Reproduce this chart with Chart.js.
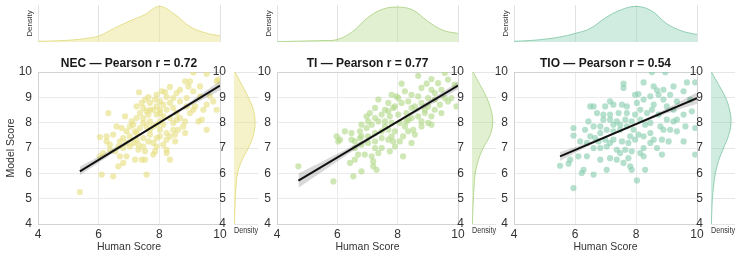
<!DOCTYPE html>
<html>
<head>
<meta charset="utf-8">
<script src="https://cdn.jsdelivr.net/npm/chart.js@4.4.1/dist/chart.umd.min.js"></script>
<style>
  html, body { margin: 0; padding: 0; background: #fff; }
  #wrap { position: relative; width: 740px; height: 256px; overflow: hidden; }
  #wrap canvas { position: absolute; left: 0; top: 0; }
</style>
</head>
<body>
<div id="wrap"></div>
<script>
// ---- data ----
const humanTicks = [4, 6, 8, 10];
const modelTicks = [4, 5, 6, 7, 8, 9, 10];
const densityGrid = [4, 4.5, 5, 5.5, 6, 6.5, 7, 7.5, 8, 8.5, 9, 9.5, 10];

const panelNames = ['NEC', 'TI', 'TIO'];
const pearsonR = ['0.72', '0.77', '0.54'];

const necPoints = [[9.12,9.98],[9.56,9.93],[9.89,9.63],[8.85,9.63],[9.01,9.63],[8.35,9.41],[8.96,9.43],[7.33,9.2],[8.08,9.24],[8.19,9.21],[7.91,9.1],[8.57,9.17],[8.46,8.97],[8.24,9.01],[7.64,9.01],[8.68,8.84],[8.02,8.84],[8.35,8.78],[8.13,8.71],[7.91,8.64],[7.69,8.51],[7.47,8.58],[7.25,8.64],[6.32,8.38],[8.46,8.58],[8.24,8.51],[8.02,8.51],[8.57,8.38],[8.9,8.64],[9.18,8.64],[9.56,8.71],[9.89,8.51],[9.45,8.51],[9.12,8.51],[9.29,8.05],[9.4,8.12],[9.56,7.72],[8.85,8.05],[8.68,8.18],[8.35,8.18],[8.13,8.25],[7.91,8.32],[7.64,8.32],[7.47,8.18],[7.36,8.38],[7.09,8.05],[6.87,8.25],[6.59,7.85],[6.76,7.79],[7.03,7.85],[7.2,7.66],[7.47,7.99],[7.69,8.05],[7.91,7.92],[8.02,7.72],[8.24,7.59],[8.35,7.46],[8.46,7.72],[8.62,7.72],[8.85,7.59],[8.02,7.46],[8.24,7.33],[8.52,7.26],[7.91,7.39],[7.69,7.53],[7.47,7.39],[7.25,7.33],[7.03,7.46],[6.81,7.39],[6.48,7.53],[6.26,7.26],[6.04,7.43],[6.92,7.2],[7.03,7.06],[7.31,6.93],[7.53,6.87],[7.86,6.87],[8.24,6.93],[8.24,6.8],[8.35,6.54],[7.8,6.74],[7.42,6.54],[7.2,6.54],[6.92,6.67],[6.7,6.67],[6.54,6.87],[6.37,6.93],[6.15,6.8],[6.04,6.67],[6.81,6.41],[6.65,6.28],[7.53,6.54],[7.58,5.95],[6.48,5.88],[6.1,5.95],[5.38,5.26],[6.65,7.06],[6.81,7.0],[7.14,7.2],[7.31,7.13],[7.47,7.06],[7.64,7.26],[7.8,7.2],[7.69,7.72],[7.8,7.85],[7.58,7.85],[8.02,8.05],[8.13,7.92],[8.46,7.99],[8.57,8.12],[8.02,8.38],[7.8,8.51],[7.58,8.45],[7.25,8.18],[7.14,7.92],[9.12,9.24],[9.34,9.04],[9.67,9.04],[9.78,8.84],[9.94,9.7],[9.34,9.43],[8.68,9.3],[7.69,8.78],[7.42,8.78],[8.9,8.97],[9.01,8.38],[8.79,7.85],[8.52,7.53],[8.13,7.13],[7.91,7.06],[7.25,7.59],[7.36,7.79],[6.92,7.66],[6.7,7.26],[6.37,7.13],[6.26,7.46],[7.86,8.91],[7.53,8.91]];

const tiPoints = [[8.68,9.85],[9.56,9.96],[9.12,9.72],[9.34,9.56],[8.13,9.54],[8.96,9.54],[9.67,9.7],[9.89,9.5],[9.45,9.3],[9.12,9.3],[8.79,9.37],[8.24,9.24],[7.8,9.1],[8.46,9.1],[8.68,9.04],[9.01,8.97],[9.23,8.91],[9.56,8.97],[9.78,8.97],[9.95,8.64],[8.02,8.97],[7.36,8.91],[7.69,8.78],[8.13,8.78],[8.35,8.84],[8.57,8.64],[8.79,8.78],[9.01,8.64],[9.23,8.51],[9.45,8.38],[7.85,8.58],[7.58,8.51],[7.25,8.58],[7.08,8.38],[6.97,8.25],[7.47,8.32],[7.74,8.25],[8.02,8.32],[8.29,8.38],[8.46,8.18],[8.68,8.25],[8.9,8.38],[9.12,8.25],[9.01,7.99],[8.79,7.85],[8.52,7.72],[8.29,8.05],[8.07,7.99],[7.8,7.99],[7.58,8.05],[7.36,8.05],[7.14,7.92],[6.97,7.79],[6.75,7.66],[6.47,7.59],[6.25,7.66],[5.98,7.46],[6.09,7.33],[6.03,7.26],[6.47,7.33],[6.75,7.39],[7.02,7.46],[7.25,7.59],[7.47,7.66],[7.69,7.72],[7.91,7.66],[8.18,7.46],[8.46,7.2],[8.18,6.67],[7.85,7.26],[7.69,7.33],[7.47,7.39],[7.25,7.26],[7.02,7.2],[6.8,7.13],[6.58,7.0],[6.69,6.74],[6.91,6.74],[7.14,6.67],[7.19,6.47],[7.3,6.14],[7.19,6.28],[6.58,6.54],[6.42,6.41],[6.8,6.08],[6.53,5.88],[5.87,5.68],[4.71,6.28],[7.47,7.0],[7.25,7.0],[7.74,6.87],[7.91,7.06],[7.36,6.8],[7.58,7.85],[7.8,7.46],[8.07,7.26],[8.35,7.66],[8.57,7.53],[9.12,7.92],[8.79,8.05],[9.67,8.84],[9.23,9.17],[9.4,8.71],[7.25,8.18],[7.02,8.05],[6.8,7.92],[7.91,8.64],[8.46,8.58],[7.96,9.04],[6.8,7.46],[6.58,7.26],[7.69,8.45],[8.24,7.85],[8.9,8.51],[8.35,8.12]];

const tioPoints = [[8.52,9.99],[8.96,9.99],[8.25,9.59],[7.59,9.54],[7.59,9.37],[8.58,9.43],[8.69,9.28],[8.9,9.3],[9.23,9.43],[9.67,9.59],[9.94,9.59],[9.56,9.24],[7.97,9.1],[8.08,9.13],[7.15,8.84],[6.5,8.64],[6.61,8.64],[7.26,8.71],[7.54,8.71],[7.7,8.64],[8.25,8.91],[8.47,9.04],[8.74,9.1],[8.9,8.91],[9.12,9.1],[9.34,8.84],[9.78,8.91],[9.83,8.45],[9.56,8.32],[9.23,8.05],[9.34,8.12],[9.01,8.12],[8.74,8.32],[8.52,8.51],[8.36,8.38],[8.14,8.51],[7.97,8.32],[7.7,8.38],[7.43,8.38],[7.15,8.32],[6.93,8.32],[6.93,8.12],[7.15,8.12],[7.37,8.05],[7.65,8.12],[7.86,8.05],[8.14,8.12],[8.3,7.92],[8.47,7.99],[8.8,7.85],[9.12,7.72],[9.34,7.66],[9.62,7.85],[9.94,7.79],[6.44,8.05],[5.95,7.79],[5.95,7.49],[6.33,7.72],[6.17,7.26],[6.5,7.46],[6.66,7.39],[6.83,7.59],[7.04,7.72],[7.26,7.66],[7.48,7.72],[7.7,7.85],[7.92,7.72],[8.08,7.53],[8.25,7.46],[8.47,7.59],[8.58,7.33],[8.85,7.33],[9.07,7.26],[8.25,7.0],[7.97,7.33],[7.75,7.2],[7.54,7.26],[7.26,7.33],[6.99,7.33],[6.77,7.26],[6.83,7.0],[7.04,7.06],[7.37,6.93],[7.65,6.93],[7.86,6.87],[8.14,6.8],[8.25,6.67],[7.75,6.6],[7.48,6.8],[7.15,6.6],[6.83,6.54],[6.39,6.67],[6.11,6.67],[5.84,6.54],[5.51,6.3],[5.79,6.38],[6.22,6.01],[6.28,6.14],[6.61,5.95],[7.04,6.14],[7.81,6.28],[7.86,6.14],[8.3,6.14],[8.03,5.72],[5.95,5.42],[9.94,6.74],[6.61,7.0],[6.39,7.2],[7.26,7.92],[7.48,7.92],[7.81,7.46],[8.47,7.2],[8.69,7.0],[8.9,7.72],[8.58,8.71],[9.01,8.64],[9.23,8.51],[8.03,8.78],[6.99,8.64],[6.72,8.38],[6.61,7.85],[6.83,7.85],[7.15,7.2],[7.37,6.54],[7.59,6.41],[8.85,6.74],[9.56,7.26]];

// regression line ends and confidence band
const necLineX = [5.38, 10], necLineY = [6.08, 9.46];
const tiLineX = [4.71, 10], tiLineY = [5.71, 9.46];
const tioLineX = [5.51, 10], tioLineY = [6.67, 8.97];

const necBandX = [5.38, 6.5, 7.8, 9, 10];
const necBandLo = [5.92, 6.81, 7.81, 8.64, 9.28];
const necBandHi = [6.26, 6.99, 7.89, 8.82, 9.64];
const tiBandX = [4.71, 6, 7.7, 9, 10];
const tiBandLo = [5.43, 6.47, 7.78, 8.65, 9.31];
const tiBandHi = [5.99, 6.77, 7.88, 8.85, 9.61];
const tioBandX = [5.51, 6.5, 7.8, 9, 10];
const tioBandLo = [6.5, 7.11, 7.8, 8.36, 8.75];
const tioBandHi = [6.84, 7.25, 7.88, 8.56, 9.19];

// marginal densities (relative) on densityGrid
const necHumanDens = [0.02, 0.03, 0.05, 0.09, 0.17, 0.38, 0.58, 0.76, 1.0, 0.78, 0.44, 0.26, 0.17];
const tiHumanDens  = [0.01, 0.02, 0.03, 0.04, 0.07, 0.29, 0.68, 0.92, 0.98, 0.9, 0.58, 0.33, 0.24];
const tioHumanDens = [0.02, 0.04, 0.08, 0.14, 0.24, 0.38, 0.68, 0.9, 1.0, 0.88, 0.52, 0.31, 0.21];
const necModelDens = [0.02, 0.04, 0.06, 0.1, 0.17, 0.37, 0.68, 0.92, 1.0, 0.92, 0.68, 0.37, 0.05];
const tiModelDens  = [0.02, 0.04, 0.07, 0.1, 0.16, 0.3, 0.54, 0.87, 1.0, 0.92, 0.7, 0.38, 0.05];
const tioModelDens = [0.02, 0.04, 0.07, 0.13, 0.22, 0.38, 0.63, 0.88, 1.0, 0.93, 0.72, 0.38, 0.02];

// ---- drawing ----
Chart.defaults.font.family = '"Liberation Sans", Arial, sans-serif';
Chart.defaults.color = '#333';
Chart.defaults.animation = false;

const W = 740, H = 256;
const wrap = document.getElementById('wrap');
function makeCanvas() {
  const c = document.createElement('canvas');
  c.width = W; c.height = H;
  wrap.appendChild(c);
  return c.getContext('2d');
}

const panels = [
  { points: necPoints, lineX: necLineX, lineY: necLineY, bandX: necBandX, lo: necBandLo, hi: necBandHi,
    hDens: necHumanDens, mDens: necModelDens, dot: 'rgba(230,222,128,0.62)', fill: 'rgba(236,229,150,0.5)', edge: 'rgba(226,218,125,0.85)',
    L: 38, R: 220, ML: 234, MR: 258, mMax: 1.14 },
  { points: tiPoints, lineX: tiLineX, lineY: tiLineY, bandX: tiBandX, lo: tiBandLo, hi: tiBandHi,
    hDens: tiHumanDens, mDens: tiModelDens, dot: 'rgba(178,216,136,0.62)', fill: 'rgba(190,222,155,0.45)', edge: 'rgba(170,210,130,0.85)',
    L: 277, R: 458, ML: 472, MR: 496, mMax: 1.16 },
  { points: tioPoints, lineX: tioLineX, lineY: tioLineY, bandX: tioBandX, lo: tioBandLo, hi: tioBandHi,
    hDens: tioHumanDens, mDens: tioModelDens, dot: 'rgba(136,205,174,0.62)', fill: 'rgba(150,210,185,0.45)', edge: 'rgba(130,200,168,0.85)',
    L: 514, R: 697, ML: 711, MR: 735, mMax: 1.2 }
];

const edgeGrid = c => (c.tick && (c.tick.value === 4 || c.tick.value === 10)) ? '#d2d2d2' : '#ebebeb';
const setTicks = arr => s => { s.ticks = arr.map(v => ({ value: v })); };
const noPlugins = { legend: { display: false }, tooltip: { enabled: false } };

panels.forEach((p, i) => {
  // main scatter with regression line
  new Chart(makeCanvas(), {
    type: 'scatter',
    data: {
      datasets: [
        { data: p.lineX.map((x, k) => ({ x, y: p.lineY[k] })), showLine: true, borderColor: '#111', borderWidth: 2, pointRadius: 0, order: 0 },
        { data: p.bandX.map((x, k) => ({ x, y: p.hi[k] })), showLine: true, borderWidth: 0, pointRadius: 0, tension: 0.3,
          fill: '+1', backgroundColor: 'rgba(0,0,0,0.15)', order: 1 },
        { data: p.bandX.map((x, k) => ({ x, y: p.lo[k] })), showLine: true, borderWidth: 0, pointRadius: 0, tension: 0.3, order: 1 },
        { data: p.points.map(d => ({ x: d[0], y: d[1] })), backgroundColor: p.dot, borderWidth: 0, pointRadius: 3.1, order: 3 }
      ]
    },
    options: {
      responsive: false,
      layout: { padding: { left: p.L - 38, right: W - p.R, top: 0, bottom: 0 } },
      plugins: Object.assign({}, noPlugins, {
        title: { display: true, fullSize: false, text: panelNames[i] + ' — Pearson r = ' + pearsonR[i], color: '#1a1a1a',
          font: { size: 12, weight: 'bold' }, padding: { top: 56.3, bottom: 1.3 } }
      }),
      scales: {
        x: { type: 'linear', min: 4, max: 10, afterBuildTicks: setTicks(humanTicks), afterFit: s => { s.height = 32; },
          grid: { color: edgeGrid, drawTicks: false }, border: { color: '#d2d2d2' },
          ticks: { padding: 3.8, font: { size: 12 }, color: '#333' },
          title: { display: true, text: 'Human Score', font: { size: 10.5 }, color: '#333', padding: { top: 0, bottom: 2.2 } } },
        y: { type: 'linear', min: 4, max: 10, afterBuildTicks: setTicks(modelTicks), afterFit: s => { s.width = 38; },
          grid: { color: edgeGrid, drawTicks: false }, border: { color: '#d2d2d2' },
          ticks: { padding: 6, font: { size: 12 }, color: '#333' },
          title: { display: i === 0, text: 'Model Score', font: { size: 10.5 }, color: '#333', padding: { top: 4.7, bottom: 0 } } }
      }
    }
  });

  // top marginal: human score density
  new Chart(makeCanvas(), {
    type: 'scatter',
    data: {
      datasets: [{ data: densityGrid.map((x, k) => ({ x, y: p.hDens[k] })), showLine: true, tension: 0.4, pointRadius: 0,
        borderColor: p.edge, borderWidth: 1, backgroundColor: p.fill, fill: 'origin' }]
    },
    options: {
      responsive: false,
      layout: { padding: { left: p.L - 38, right: W - p.R, top: 5, bottom: 214 } },
      plugins: noPlugins,
      scales: {
        x: { type: 'linear', min: 4, max: 10, afterBuildTicks: setTicks(humanTicks), afterFit: s => { s.height = 0; },
          ticks: { display: false }, grid: { color: '#e2e2e2', drawTicks: false }, border: { display: false } },
        y: { type: 'linear', min: 0, max: 1.04, afterFit: s => { s.width = 38; },
          ticks: { display: false }, grid: { display: false }, border: { display: false },
          title: { display: true, text: 'Density', font: { size: 8 }, color: '#333', padding: { top: 25.2, bottom: 0 } } }
      }
    }
  });

  // right marginal: model score density
  new Chart(makeCanvas(), {
    type: 'scatter',
    data: {
      datasets: [{ data: densityGrid.map((y, k) => ({ x: p.mDens[k], y })), showLine: true, tension: 0.4, pointRadius: 0,
        borderColor: p.edge, borderWidth: 1, backgroundColor: p.fill, fill: 'origin' }]
    },
    options: {
      responsive: false,
      indexAxis: 'y',
      layout: { padding: { left: p.ML - 22, right: W - p.MR, top: 72, bottom: 18 } },
      plugins: noPlugins,
      scales: {
        x: { type: 'linear', min: 0, max: p.mMax, afterFit: s => { s.height = 14; },
          ticks: { display: false }, grid: { display: false }, border: { display: false },
          title: { display: true, text: 'Density', font: { size: 8.5 }, color: '#333', padding: { top: 0, bottom: 2.2 } } },
        y: { type: 'linear', min: 4, max: 10, afterBuildTicks: setTicks(modelTicks), afterFit: s => { s.width = 22; },
          ticks: { padding: 8, font: { size: 12 }, color: '#333' },
          grid: { color: '#e6e6e6', drawTicks: false }, border: { display: false } }
      }
    }
  });
});
</script>
</body>
</html>
